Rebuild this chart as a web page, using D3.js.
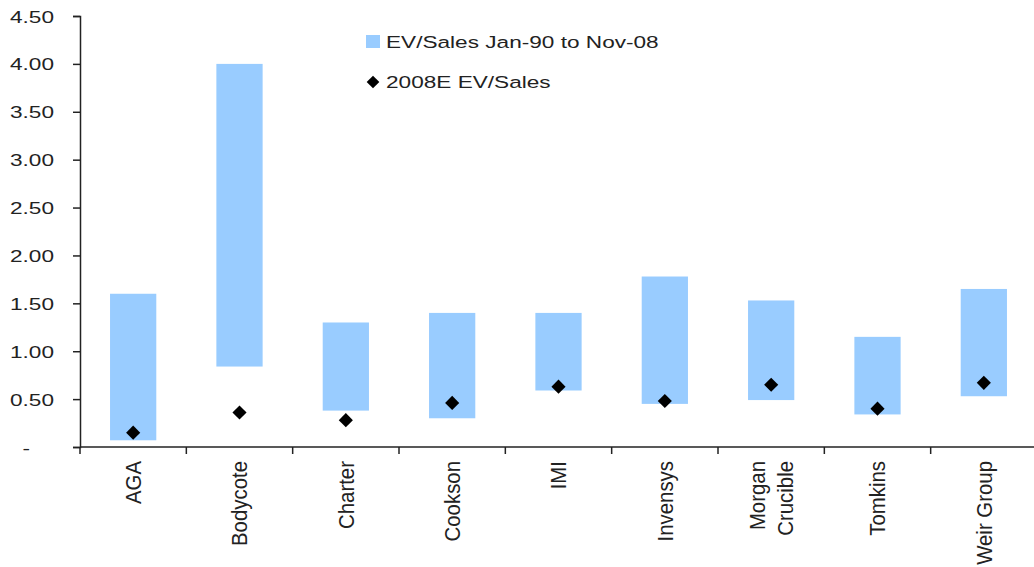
<!DOCTYPE html>
<html>
<head>
<meta charset="utf-8">
<script src="https://cdn.jsdelivr.net/npm/d3@7"></script>
<style>
  body { margin: 0; background: #fff; }
  svg { display: block; font-family: "Liberation Sans", Arial, sans-serif; }
</style>
</head>
<body>
<div id="svg-container"></div>
<script>
// data
const categories = ["AGA", "Bodycote", "Charter", "Cookson", "IMI", "Invensys", "Morgan Crucible", "Tomkins", "Weir Group"]
const rangeLow = [0.07, 0.84, 0.38, 0.30, 0.59, 0.45, 0.49, 0.34, 0.53]
const rangeHigh = [1.60, 4.00, 1.30, 1.40, 1.40, 1.78, 1.53, 1.15, 1.65]
const evSales2008 = [0.15, 0.36, 0.28, 0.46, 0.63, 0.48, 0.65, 0.40, 0.67]
const yTicks = [0, 0.5, 1, 1.5, 2, 2.5, 3, 3.5, 4, 4.5]
const yTickLabels = ["-", "0.50", "1.00", "1.50", "2.00", "2.50", "3.00", "3.50", "4.00", "4.50"]
const legendLabels = ["EV/Sales Jan-90 to Nov-08", "2008E EV/Sales"]

const width = 1034, height = 567
const margin = { top: 16, left: 80, bottom: 120 }
const plotBottom = 447
const plotRight = 1037

const svg = d3.select('#svg-container').append('svg')
    .attr('width', width).attr('height', height)

//schalen
const yScale = d3.scaleLinear().domain([0, 4.5]).range([plotBottom, margin.top])
const xScale = d3.scaleBand().domain(categories).range([margin.left, plotRight])
const barScale = d3.scaleBand().domain(categories).range([margin.left, plotRight])
    .paddingInner(0.565).paddingOuter(0.565 / 2)

const data = categories.map((c, i) => ({ name: c, low: rangeLow[i], high: rangeHigh[i], e: evSales2008[i] }))

//balken (range)
svg.append('g').selectAll('rect').data(data)
    .enter().append('rect')
    .attr('x', d => barScale(d.name))
    .attr('y', d => yScale(d.high))
    .attr('width', barScale.bandwidth())
    .attr('height', d => yScale(d.low) - yScale(d.high))
    .attr('fill', '#99ccff')

//diamanten
svg.append('g').selectAll('path').data(data)
    .enter().append('path')
    .attr('d', d3.symbol(d3.symbolSquare, 100))
    .attr('transform', d => `translate(${xScale(d.name) + xScale.bandwidth() / 2},${yScale(d.e)}) rotate(45)`)
    .attr('fill', '#000')

//y-as
const yAxis = svg.append('g')
    .attr('transform', `translate(${margin.left},0)`)
    .call(d3.axisLeft(yScale).tickValues(yTicks).tickSize(7).tickPadding(0)
        .tickFormat((d, i) => yTickLabels[i]))
yAxis.select('.domain').attr('stroke', '#222').attr('stroke-width', 1.5)
yAxis.selectAll('.tick line').attr('stroke', '#222').attr('stroke-width', 1.5)
yAxis.selectAll('.tick text')
    .attr('x', null).attr('dy', null)
    .attr('font-size', 17).attr('fill', '#222')
    .attr('text-anchor', 'end')
    .attr('transform', (d, i) => `translate(${i === 0 ? -50 : -26},6) scale(1.33,1)`)

//x-as
const xAxis = svg.append('g')
    .attr('transform', `translate(0,${plotBottom})`)
xAxis.append('line')
    .attr('x1', margin.left).attr('x2', width)
    .attr('stroke', '#222').attr('stroke-width', 1.5)
xAxis.selectAll('.xtick').data(categories)
    .enter().append('line')
    .attr('class', 'xtick')
    .attr('x1', d => xScale(d)).attr('x2', d => xScale(d))
    .attr('y1', 0).attr('y2', 7)
    .attr('stroke', '#222').attr('stroke-width', 1.5)

const xLabels = xAxis.selectAll('.xlabel').data(categories)
    .enter().append('text')
    .attr('class', 'xlabel')
    .attr('font-size', 17).attr('fill', '#222')
    .attr('text-anchor', 'end')
    .attr('transform', d => `translate(${xScale(d) + xScale.bandwidth() / 2},14) scale(1.3,1) rotate(-90) scale(1.2,1)`)
xLabels.each(function (d) {
    const words = d.split(' ')
    const t = d3.select(this)
    if (d === 'Morgan Crucible') {
        t.append('tspan').attr('x', 0).attr('y', -11).attr('dy', '0.35em').text(words[0])
        t.append('tspan').attr('x', 0).attr('y', 11).attr('dy', '0.35em').text(words[1])
    } else {
        t.append('tspan').attr('x', 0).attr('dy', '0.35em').text(d)
    }
})

//legenda
const legend = svg.append('g')
legend.append('rect')
    .attr('x', 366).attr('y', 35).attr('width', 14).attr('height', 13)
    .attr('fill', '#99ccff')
legend.append('path')
    .attr('d', d3.symbol(d3.symbolSquare, 80))
    .attr('transform', 'translate(373,82) rotate(45)')
    .attr('fill', '#000')
legend.selectAll('text').data(legendLabels)
    .enter().append('text')
    .attr('transform', (d, i) => `translate(386,${48 + i * 40}) scale(1.33,1)`)
    .attr('font-size', 17).attr('fill', '#222')
    .text(d => d)
</script>
</body>
</html>
